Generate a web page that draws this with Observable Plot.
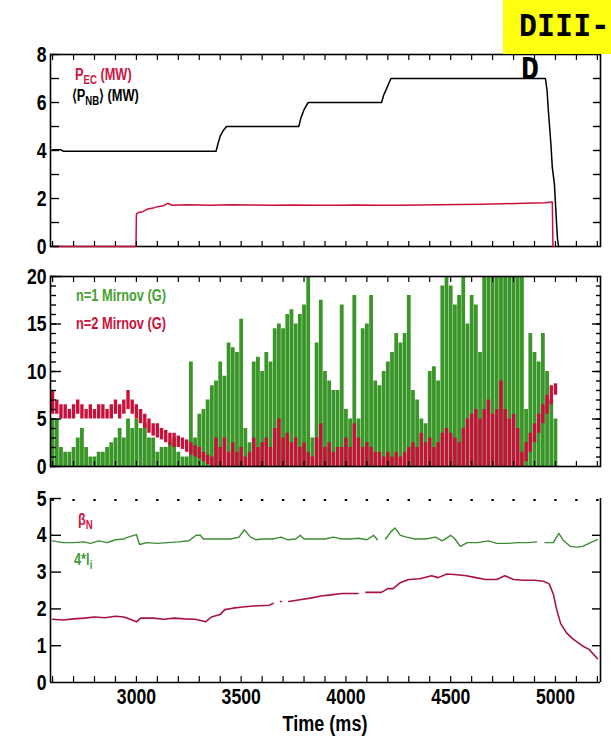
<!DOCTYPE html>
<html><head><meta charset="utf-8">
<script src="https://cdn.jsdelivr.net/npm/d3@7"></script>
<script src="https://cdn.jsdelivr.net/npm/@observablehq/plot@0.6"></script>
<style>
body{margin:0;background:#fff;}
#wrap{position:relative;width:611px;height:739px;overflow:hidden;background:#fff;font-family:"Liberation Sans",Arial,sans-serif;font-weight:bold;}
#wrap svg{position:absolute;left:0;}
.lg{position:absolute;font-size:16px;white-space:nowrap;line-height:1;transform:scaleX(0.8);transform-origin:left center;}
.lg sub{font-size:12px;vertical-align:-4px;line-height:0;}
.badge{position:absolute;font-family:"DejaVu Sans Mono",monospace;font-weight:bold;font-size:30px;line-height:1;color:#000;}
.xlab{position:absolute;left:0;width:650px;text-align:center;font-size:22px;line-height:1;color:#000;transform:scaleX(0.82);transform-origin:325px center;}
</style></head><body><div id="wrap"></div>
<script>
// ---------- data ----------
const timeDomain = [2590, 5215];
const timeTicks = d3.range(2600, 5201, 100);
const timeLabels = [3000, 3500, 4000, 4500, 5000];

// Panel 1: heating power (MW)
const nbTime  = [2600,2640,2650,3380,3390,3400,3412,3430,3775,3785,3800,3820,4170,4180,4195,4205,4215,4952,4960,4965,4972,4978,4985,4995,5000,5005,5010,5015];
const nbPower = [4.03,4.03,3.97,3.97,4.3,4.6,4.8,5.0,5.0,5.35,5.7,6.0,6.0,6.3,6.6,6.8,7.0,7.0,6.5,5.8,5.0,4.3,3.3,2.6,1.8,1.0,0.3,0.0];
const ecTime  = [2600,2998,3000,3010,3030,3050,3080,3100,3130,3150,3170,3250,3350,3450,3550,3650,3750,3850,3950,4050,4150,4250,4350,4450,4550,4650,4750,4850,4950,4985,4988,4995];
const ecPower = [0,0,1.35,1.42,1.45,1.55,1.6,1.66,1.7,1.8,1.72,1.74,1.72,1.74,1.73,1.72,1.73,1.72,1.72,1.73,1.72,1.72,1.73,1.74,1.75,1.76,1.78,1.8,1.82,1.85,0,0];

// Panel 2: Mirnov amplitudes (G), sampled every 20 ms from 2600 ms
const mirnovStart = 2600, mirnovStep = 20;
const n1Hi = [5,5,2,1.5,1.5,2,3,4,2,1, 1,1.5,1.5,2,2.5,3,4,3,5,4,
  5,4,4.5,3,3,1.5,2,2,2.5,3, 1.5,1,1,11,3,5.5,6,7,8.5,9,
  11,9.5,13,12.5,12,15.5,4,2.5,11,11.5, 10,12,11,14.5,15,14.5,16,16.5,15,16,
  17,20,3,13,17.5,10,9,8,8,17, 6,5,18,5,14.5,15,18,9,8.5,10,
  11,12,14,13,14,18,8,7,5,4.5, 10,10.5,9,19,20,19,17,18,20,15,
  18,17,12,20,20,20,20,20,20,20, 20,20,20,6,14,12,11,14,10,7, 5];
const n2Hi = [8,7,6.5,6.5,6,6.5,7,6.5,6,6.5, 6,6.5,6.5,6,6.5,7,6.5,7,8,7, 6.5,
  6,5.5,5,4.5,4.5,4,3.8,3.5,3.5,3.2,3,2.8,
  2.5,2.2,2,1.5,1.2,1,3,
  2,3,1.5,2.5,1.5,2,1,1.5,3,2, 2.5,3,2,4,5,3,3.5,2.5,3,2,
  2.5,1.5,1,3,4.5,2,2.5,1.5,2,2, 3,2,4.5,3,2,2.5,2,1.5,1.5,1,
  1.5,1,1.5,1,1.5,2,2.5,2,3.5,2.5, 3,2,2.5,3.5,4,3.5,3,2.5,4,5,
  5.5,6,5,6,
  7,5.5,6,9,6,5,5.5,4,
  1.5,2.5,3.5,4.5,5.5,6.5,7.5,8.5,8.7];
const n2Lo = [5.5,5.5,5,5,5,5,5.5,5,5,5, 5,5,5,5,5,5.5,5,5.5,6,5.5, 5,
  4.5,4,3.5,3.2,3,2.8,2.5,2.2,2,2,1.8,1.5,
  1.2,1,0.8,0.5,0.2,0,0,
  0,0,0,0,0,0,0,0,0,0, 0,0,0,0,0,0,0,0,0,0, 0,0,0,0,0,0,0,0,0,0,
  0,0,0,0,0,0,0,0,0,0, 0,0,0,0,0,0,0,0,0,0, 0,0,0,0,0,0,0,0,0,0,
  0,0,0,0,0,0,0,0,0,0, 0,0,
  0,0.5,1.5,2.5,3.5,4.5,5.5,6.5,7.5];

// Panel 3: beta_N and 4*li (null = gap in the trace)
const betaTime = [2600,2650,2700,2750,2800,2850,2900,2940,2970,3000,3020,3080,3130,3180,3230,3280,3330,3358,3400,3422,3460,3506,3560,3634,3653,3670,3688,3692,3705,3727,3780,3837,3880,3929,3980,4058,4075,4095,4169,4200,4225,4261,4300,4353,4409,4440,4482,4530,4574,4620,4666,4720,4758,4800,4851,4900,4943,4970,4990,5005,5025,5053,5080,5127,5160,5200];
const betaN    = [1.72,1.7,1.73,1.75,1.78,1.76,1.8,1.78,1.72,1.65,1.75,1.75,1.72,1.75,1.73,1.72,1.65,1.78,1.85,1.98,2.02,2.05,2.08,2.1,2.15,null,2.2,2.2,null,2.2,2.25,2.3,2.35,2.38,2.42,2.42,null,2.45,2.45,2.55,2.55,2.72,2.8,2.82,2.9,2.85,2.95,2.93,2.9,2.85,2.8,2.8,2.9,2.8,2.78,2.78,2.75,2.68,2.4,2.0,1.6,1.35,1.2,1.0,0.9,0.65];
const liTime = [2600,2650,2700,2750,2780,2820,2860,2900,2940,2960,3000,3015,3050,3100,3150,3200,3250,3285,3305,3320,3360,3400,3450,3490,3515,3545,3570,3600,3650,3690,3720,3760,3782,3800,3850,3900,3940,3980,4020,4060,4100,4132,4150,4170,4190,4215,4234,4260,4290,4330,4380,4427,4460,4500,4520,4546,4580,4630,4680,4720,4770,4820,4870,4910,4935,4950,4990,5016,5040,5070,5100,5130,5160,5200];
const li4    = [3.85,3.8,3.8,3.82,3.78,3.85,3.8,3.88,3.9,3.95,4.02,3.75,3.8,3.78,3.8,3.82,3.85,4.0,4.0,3.9,3.9,3.9,3.9,3.95,4.15,3.95,3.88,3.9,3.9,3.95,3.88,3.9,4.0,3.9,3.9,3.9,3.95,3.9,3.9,3.92,3.88,4.0,3.88,null,3.9,4.1,4.2,4.0,3.95,3.9,3.9,3.95,3.85,4.0,3.9,3.7,3.8,3.8,3.85,3.78,3.78,3.8,3.8,3.82,null,3.8,3.8,4.05,3.85,3.7,3.68,3.7,3.78,3.88];

// ---------- build ----------
const RED = "#c8103a", GREEN = "#3a9628", LINE_GREEN = "#3f8a35", BETA_RED = "#a8123e";
const FONT = '"Liberation Sans",Arial,sans-serif';
const W = 611, ML = 50, MR = 11;
const wrap = document.getElementById("wrap");

const rows = (xs, ys) => xs.map((t, i) => ({t, v: ys[i]}));
const mirnov = n1Hi.map((g, i) => ({t: mirnovStart + i * mirnovStep, g, rHi: n2Hi[i], rLo: n2Lo[i]}));

const blank = () => "";
const tL = (ticks, len) => Plot.axisY({anchor: "left", ticks, tickSize: len, dx: len, tickFormat: blank, label: null, strokeWidth: 1.4});
const tR = (ticks, len) => Plot.axisY({anchor: "right", ticks, tickSize: len, dx: -len, tickFormat: blank, label: null, strokeWidth: 1.4});
const tT = (ticks, len, sw = 1.2) => Plot.axisX({anchor: "top", ticks, tickSize: len, dy: len, tickFormat: blank, label: null, strokeWidth: sw});
const tB = (ticks, len) => Plot.axisX({anchor: "bottom", ticks, tickSize: len, dy: -len, tickFormat: blank, label: null, strokeWidth: 1.2});
const yLab = (ticks) => Plot.axisY({anchor: "left", ticks, tickSize: 0, tickPadding: 4, label: null, tickFormat: d3.format("d")});

function panel(top, height, mt, mb, yDomain, marks) {
  const svg = Plot.plot({
    width: W, height, marginLeft: ML, marginRight: MR, marginTop: mt, marginBottom: mb,
    x: {domain: timeDomain}, y: {domain: yDomain},
    style: {fontFamily: FONT, fontSize: "22px", fontWeight: "bold", background: "transparent", color: "#000", overflow: "visible"},
    marks
  });
  svg.style.top = top + "px";
  // condense the tick labels horizontally around their anchor point
  svg.querySelectorAll("text").forEach(t => {
    if (t.textContent.trim() === "") { t.remove(); return; }
    t.setAttribute("transform", (t.getAttribute("transform") || "") + " scale(0.8,1)");
  });
  wrap.appendChild(svg);
}

// Panel 1
panel(0, 260, 54, 14, [0, 8], [
  Plot.line(rows(nbTime, nbPower), {x: "t", y: "v", stroke: "#000", strokeWidth: 1.5}),
  Plot.frame({stroke: "#000", strokeWidth: 1.6}),
  Plot.line(rows(ecTime, ecPower), {x: "t", y: "v", stroke: RED, strokeWidth: 1.5}),
  tL(d3.range(0, 9, 1), 9), tR(d3.range(1, 8, 1), 8),
  tT(timeTicks, 5), tB(timeTicks, 5),
  yLab([0, 2, 4, 6, 8])
]);

// Panel 2
panel(260, 220, 16, 14, [0, 20], [
  Plot.ruleX(mirnov, {x: "t", y1: 0, y2: "g", stroke: GREEN, strokeWidth: 3.8}),
  Plot.ruleX(mirnov, {x: "t", y1: "rLo", y2: "rHi", stroke: RED, strokeWidth: 3.4}),
  Plot.frame({stroke: "#000", strokeWidth: 1.6}),
  tL(d3.range(0, 21, 1), 6), tL([0, 5, 10, 15, 20], 11),
  tR(d3.range(1, 20, 1), 5), tR([5, 10, 15], 9),
  tT(timeTicks, 5), tB(timeTicks, 5),
  yLab([0, 5, 10, 15, 20])
]);

// Panel 3
panel(480, 259, 18, 57, [0, 5], [
  Plot.line(rows(liTime, li4), {x: "t", y: "v", stroke: LINE_GREEN, strokeWidth: 1.4}),
  Plot.line(rows(betaTime, betaN), {x: "t", y: "v", stroke: BETA_RED, strokeWidth: 1.6}),
  Plot.ruleX([timeDomain[0], timeDomain[1]], {stroke: "#000", strokeWidth: 1.6}),
  Plot.ruleY([0], {stroke: "#000", strokeWidth: 1.6}),
  tL([1, 2, 3, 4, 5], 11), tR([1, 2, 3, 4], 9),
  tT(timeTicks, 2, 2.4), tB(timeTicks, 6),
  yLab([0, 1, 2, 3, 4, 5]),
  Plot.axisX({anchor: "bottom", ticks: timeLabels, tickSize: 0, tickPadding: 6, label: null, tickFormat: d3.format("d")})
]);

// ---------- text overlays ----------
function addDiv(html, cls, css) {
  const d = document.createElement("div");
  d.innerHTML = html;
  if (cls) d.className = cls;
  Object.assign(d.style, css);
  wrap.appendChild(d);
  return d;
}
addDiv("", "", {position: "absolute", left: "503px", top: "0px", width: "108px", height: "54px", background: "#ffff10"});
addDiv("DIII-", "badge", {left: "519px", top: "11px"});
addDiv("D", "badge", {left: "521px", top: "54px"});

const lg = (html, left, top, color) => addDiv(html, "lg", {left: left + "px", top: top + "px", color});
lg("P<sub>EC</sub> (MW)", 75, 67, "#d0163f");
lg("⟨P<sub>NB</sub>⟩ (MW)", 72, 88, "#000");
lg("n=1 Mirnov (G)", 76, 288, "#45a032");
lg("n=2 Mirnov (G)", 76, 316, "#c8103a");
lg("β<sub>N</sub>", 78, 512, "#d0163f");
lg("4*l<sub>i</sub>", 74, 552, "#4a9a3a");

addDiv("Time (ms)", "xlab", {top: "713px"});
</script></body></html>
